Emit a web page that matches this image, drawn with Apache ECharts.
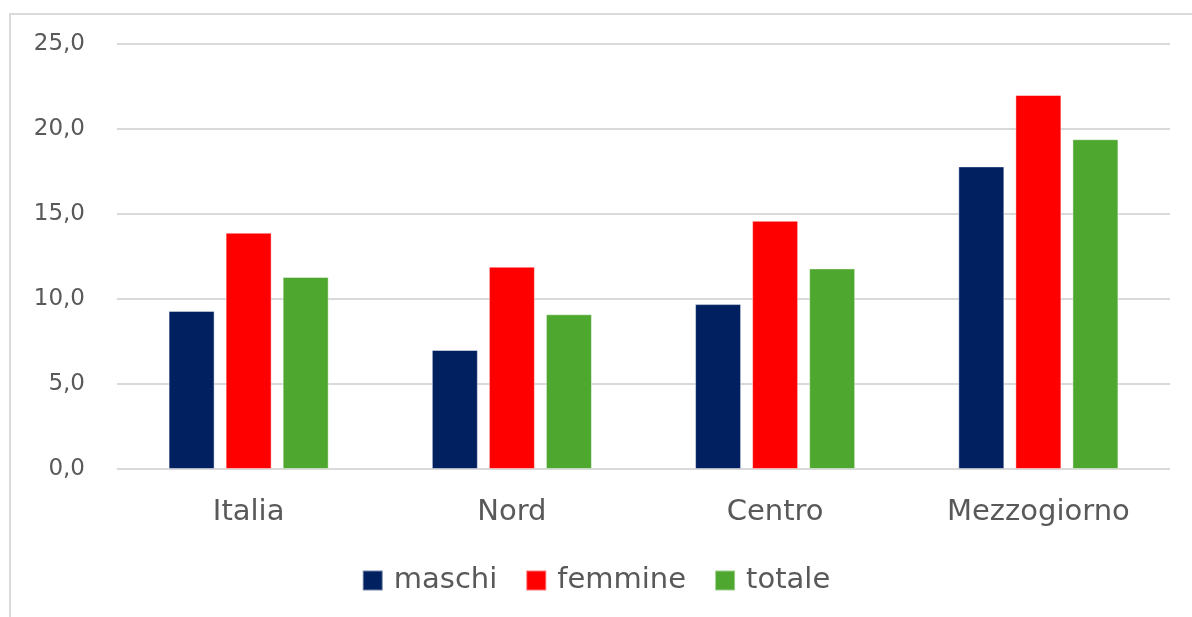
<!DOCTYPE html>
<html>
<head>
<meta charset="utf-8">
<script src="https://cdn.jsdelivr.net/npm/echarts@6/dist/echarts.min.js"></script>
<style>
  html, body { margin: 0; padding: 0; background: #fff; }
  #chart { width: 1192px; height: 617px; }
  #frame {
    position: absolute; left: 9px; top: 13px; width: 1200px; height: 620px;
    border-left: 2px solid #d9d9d9; border-top: 2px solid #d9d9d9;
    pointer-events: none;
  }
</style>
</head>
<body>
<div id="chart"></div>
<div id="frame"></div>
<script>
var categories = ["Italia", "Nord", "Centro", "Mezzogiorno"];
var maschi = [9.3, 7.0, 9.7, 17.8];
var femmine = [13.9, 11.9, 14.6, 22.0];
var totale = [11.3, 9.1, 11.8, 19.4];
var yTicks = [0, 5, 10, 15, 20, 25];

var fmt = function (v) { return v.toFixed(1).replace(".", ","); };

var chart = echarts.init(document.getElementById("chart"));

var bar = function (name, data, color) {
    return {
        name: name,
        type: "bar",
        data: data,
        barWidth: 46,
        barGap: "24%",
        itemStyle: { color: color, borderColor: "rgba(255,255,255,0.45)", borderWidth: 1 }
    };
};

chart.setOption({
    animation: false,
    textStyle: { fontFamily: "DejaVu Sans" },
    grid: { left: 117, right: 22, top: 44, bottom: 148 },
    legend: {
        top: 561,
        left: "center",
        itemWidth: 20,
        itemHeight: 20,
        itemGap: 28,
        icon: "rect",
        textStyle: { fontSize: 29, color: "#595959", fontFamily: "DejaVu Sans", padding: [0, 0, 0, 6] },
        data: ["maschi", "femmine", "totale"]
    },
    xAxis: {
        type: "category",
        data: categories,
        axisLine: { show: false },
        axisTick: { show: false },
        axisLabel: { fontSize: 29, color: "#595959", margin: 29 }
    },
    yAxis: {
        type: "value",
        min: yTicks[0],
        max: yTicks[yTicks.length - 1],
        interval: 5,
        axisLine: { show: false },
        axisTick: { show: false },
        axisLabel: { fontSize: 23, color: "#595959", margin: 32, formatter: fmt },
        splitLine: { lineStyle: { color: "#d9d9d9", width: 2 } }
    },
    series: [
        bar("maschi", maschi, "#002060"),
        bar("femmine", femmine, "#ff0000"),
        bar("totale", totale, "#4ea72e")
    ]
});
</script>
</body>
</html>
